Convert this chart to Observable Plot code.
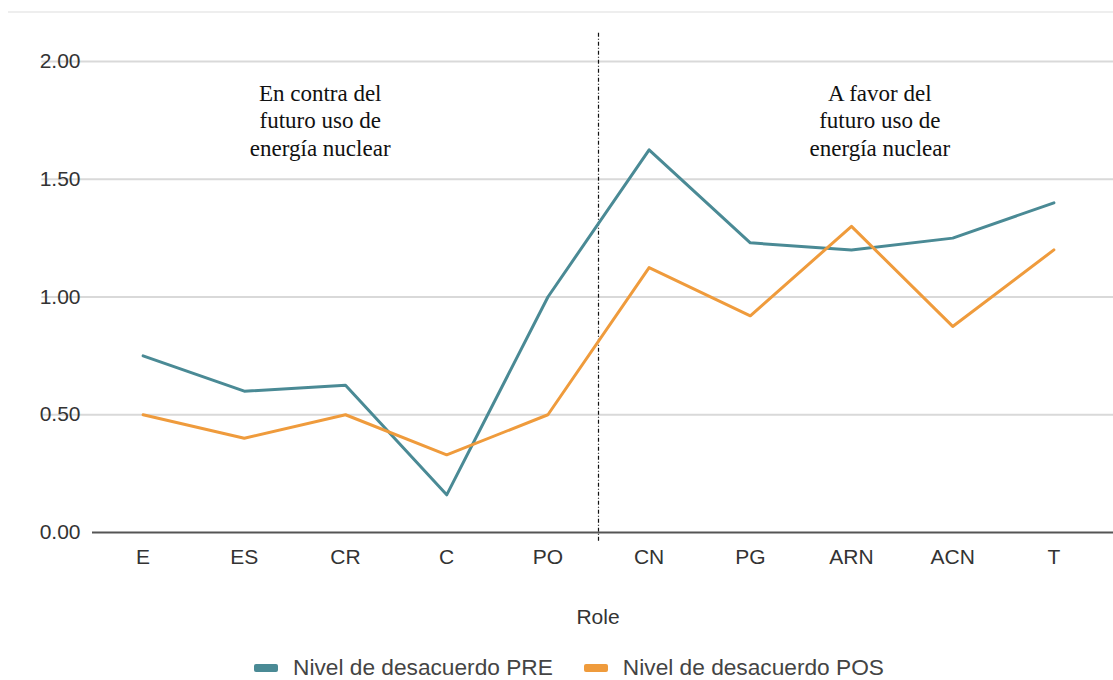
<!DOCTYPE html>
<html>
<head>
<meta charset="utf-8">
<script src="https://cdn.jsdelivr.net/npm/d3@7"></script>
<script src="https://cdn.jsdelivr.net/npm/@observablehq/plot@0.6"></script>
<style>
  body { margin: 0; background: #fff; font-family: "Liberation Sans", Arial, sans-serif; }
  #wrap { position: relative; width: 1113px; height: 680px; overflow: hidden; }
  #topline { position: absolute; left: 8px; right: 0; top: 11px; border-top: 2px solid #eeeeee; }
  #chart { position: absolute; left: 0; top: 0; }
  #xlabel { position: absolute; left: 0; width: 1196px; top: 605px; text-align: center; font-size: 21px; color: #333; }
  #legend { position: absolute; left: 0; width: 1138px; top: 654px; display: flex; justify-content: center; gap: 31px; font-size: 22.7px; color: #444; }
  .item { display: flex; align-items: center; gap: 15px; }
  .sw { width: 24px; height: 8px; border-radius: 2px; display: inline-block; }
</style>
</head>
<body>
<div id="wrap">
  <div id="topline"></div>
  <div id="chart"></div>
  <div id="xlabel">Role</div>
  <div id="legend"></div>
</div>
<script>
const roles = ["E", "ES", "CR", "C", "PO", "CN", "PG", "ARN", "ACN", "T"];
const pre = [0.75, 0.60, 0.625, 0.16, 1.00, 1.625, 1.23, 1.20, 1.25, 1.40];
const pos = [0.50, 0.40, 0.50, 0.33, 0.50, 1.125, 0.92, 1.30, 0.875, 1.20];
const seriesNames = ["Nivel de desacuerdo PRE", "Nivel de desacuerdo POS"];
const seriesColors = ["#4a8a95", "#ef9b3c"];
const yTicks = [0, 0.5, 1, 1.5, 2];
const annotations = [
  {x: 1.75, y: 1.917, text: "En contra del\nfuturo uso de\nenergía nuclear"},
  {x: 7.28, y: 1.917, text: "A favor del\nfuturo uso de\nenergía nuclear"}
];
const divider = 4.5;

const data = [];
roles.forEach((r, i) => {
  data.push({i, role: r, value: pre[i], series: seriesNames[0]});
  data.push({i, role: r, value: pos[i], series: seriesNames[1]});
});

const chart = Plot.plot({
  width: 1113,
  height: 640,
  marginLeft: 92,
  marginRight: 9,
  marginTop: 61,
  marginBottom: 108,
  style: {fontFamily: "'Liberation Sans', Arial, sans-serif", fontSize: "21px", background: "transparent"},
  x: {domain: [-0.5, 9.5], label: null},
  y: {domain: [0, 2], label: null},
  color: {domain: seriesNames, range: seriesColors},
  marks: [
    Plot.gridY(yTicks.slice(1), {stroke: "#d9d9d9", strokeOpacity: 1, strokeWidth: 2, x1: -1.0, x2: 10}),
    Plot.axisX({ticks: d3.range(roles.length), tickFormat: i => roles[i], tickSize: 0, tickPadding: 17, fill: "#333", fontSize: 21, label: null}),
    Plot.axisY({ticks: yTicks, tickFormat: d3.format(".2f"), tickSize: 0, tickPadding: 12, fill: "#333", fontSize: 21, label: null}),
    Plot.ruleX([divider], {y1: 2.12, y2: -0.04, stroke: "#111", strokeWidth: 1.2, strokeDasharray: "4,2,1,2", clip: false}),
    Plot.line(data, {x: "i", y: "value", stroke: "series", strokeWidth: 3, z: "series"}),
    Plot.ruleY([0], {stroke: "#555", strokeWidth: 2, x1: -0.5, x2: 10}),
    Plot.text(annotations, {x: "x", y: "y", text: "text", lineAnchor: "top", lineHeight: 1.2, fontSize: 23, fontFamily: "'Liberation Serif', 'Times New Roman', serif", fill: "#111"})
  ]
});
document.getElementById("chart").appendChild(chart);

const legend = document.getElementById("legend");
seriesNames.forEach((n, k) => {
  const it = document.createElement("div");
  it.className = "item";
  const sw = document.createElement("span");
  sw.className = "sw";
  sw.style.background = seriesColors[k];
  const lab = document.createElement("span");
  lab.textContent = n;
  it.appendChild(sw);
  it.appendChild(lab);
  legend.appendChild(it);
});
</script>
</body>
</html>
